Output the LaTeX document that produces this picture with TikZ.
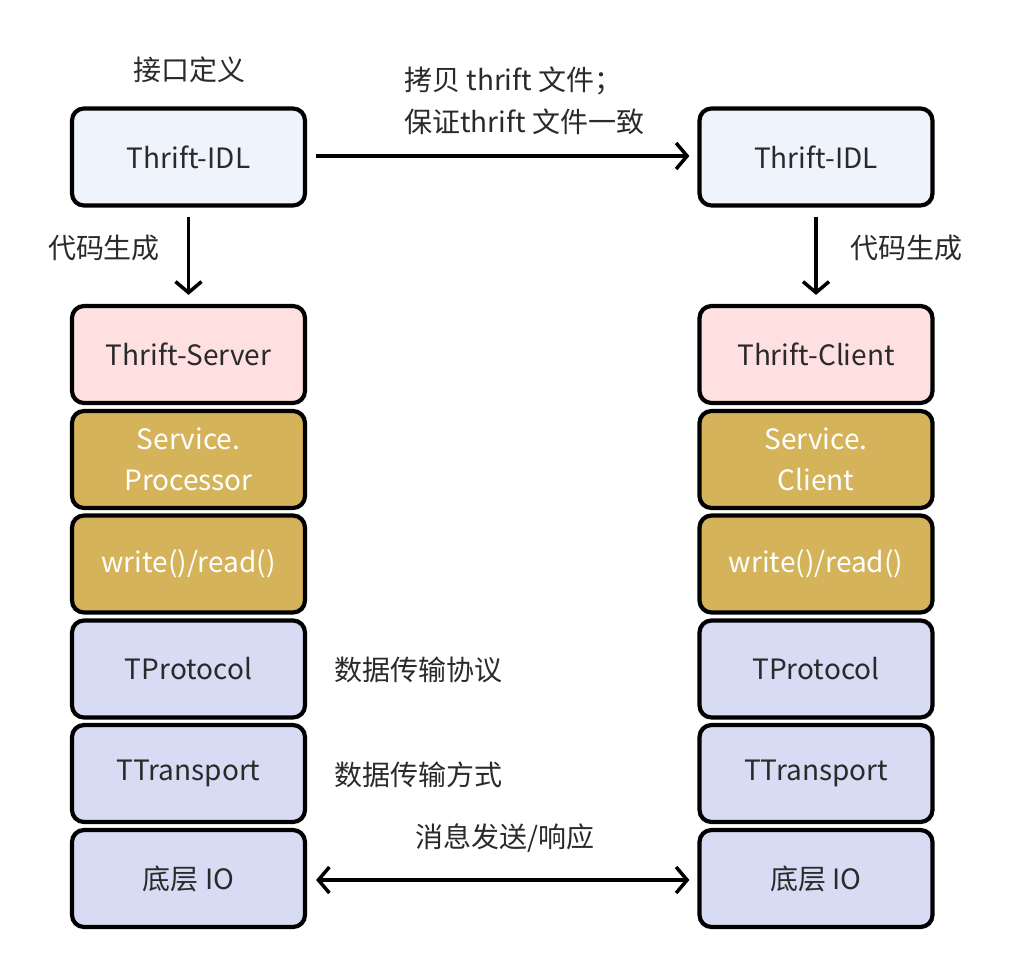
\documentclass[tikz,border=0pt]{standalone}
\usepackage{fontspec}
\setmainfont{Noto Sans CJK SC}
\usetikzlibrary{arrows.meta}
\definecolor{idlfill}{HTML}{EEF3FC}
\definecolor{pinkfill}{HTML}{FFE0E1}
\definecolor{goldfill}{HTML}{D4B35A}
\definecolor{lavfill}{HTML}{D7DCF4}
\definecolor{txt}{HTML}{2A2A2A}
\tikzset{
  box/.style={draw=black, line width=4.2pt, rounded corners=12pt, minimum width=233pt, minimum height=97pt, inner sep=0pt, text=txt, align=center, font=\fontsize{28}{41}\selectfont},
  idlbox/.style={box, fill=idlfill},
  pinkbox/.style={box, fill=pinkfill},
  goldbox/.style={box, fill=goldfill, text=white},
  lavbox/.style={box, fill=lavfill},
  lbl/.style={text=txt, font=\fontsize{28}{42}\selectfont, inner sep=0pt},
  conn/.style={line width=3.5pt, -{Straight Barb[length=11pt,width=26pt,line width=3.5pt]}},
  biconn/.style={line width=3.5pt, {Straight Barb[length=11pt,width=26pt,line width=3.5pt]}-{Straight Barb[length=11pt,width=26pt,line width=3.5pt]}}
}
\begin{document}
\begin{tikzpicture}[x=1pt,y=-1pt]
\useasboundingbox (0,0) rectangle (1010,980);
% left column
\node[idlbox] (idlL) at (188.5,157) {Thrift-IDL};
\node[pinkbox] (srv) at (188.5,354.5) {Thrift-Server};
\node[goldbox] (proc) at (188.5,459.5) {Service.\\Processor};
\node[goldbox] (wrL) at (188.5,564) {write()/read()};
\node[lavbox] (protL) at (188.5,669) {TProtocol};
\node[lavbox] (transL) at (188.5,773.5) {TTransport};
\node[lavbox] (ioL) at (188.5,878.5) {底层 IO};
% right column
\node[idlbox] (idlR) at (816,157) {Thrift-IDL};
\node[pinkbox] (cli) at (816,354.5) {Thrift-Client};
\node[goldbox] (svc) at (816,459.5) {Service.\\Client};
\node[goldbox] (wrR) at (816,564) {write()/read()};
\node[lavbox] (protR) at (816,669) {TProtocol};
\node[lavbox] (transR) at (816,773.5) {TTransport};
\node[lavbox] (ioR) at (816,878.5) {底层 IO};
% labels
\node[lbl] (def) at (189,70) {接口定义};
\node[lbl, align=left, anchor=west] (copy) at (404,101) {拷贝 thrift 文件；\\保证thrift 文件一致};
\node[lbl] (genL) at (104,248) {代码生成};
\node[lbl] (genR) at (906,248) {代码生成};
\node[lbl] (protlbl) at (418,670) {数据传输协议};
\node[lbl] (translbl) at (418,775) {数据传输方式};
\node[lbl] (msg) at (505,838) {消息发送/响应};
% connectors
\draw[conn, shorten <=9pt, shorten >=8pt] (idlL.east |- 0,156) -- (idlR.west |- 0,156);
\draw[conn, shorten <=9pt, shorten >=9pt] (idlL.south) -- (srv.north);
\draw[conn, shorten <=9pt, shorten >=9pt] (idlR.south) -- (cli.north);
\draw[biconn, shorten <=9pt, shorten >=8pt] (ioL.east |- 0,880) -- (ioR.west |- 0,880);
\end{tikzpicture}
\end{document}
